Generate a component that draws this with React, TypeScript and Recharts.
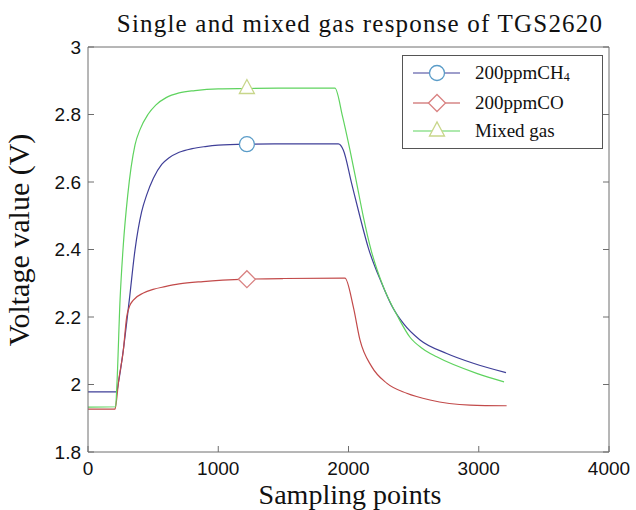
import { Line, LineChart, XAxis, YAxis } from 'recharts';

// sampling point index / voltage
const ch4X = [0, 220, 233, 271, 317, 361, 412, 450, 502, 566, 620, 700, 800, 900, 1000, 1220, 1500, 1922, 1960, 2024, 2088, 2152, 2255, 2330, 2421, 2549, 2754, 2958, 3209];
const ch4Y = [1.978, 1.978, 2.004, 2.102, 2.25, 2.399, 2.512, 2.561, 2.611, 2.652, 2.671, 2.688, 2.699, 2.705, 2.709, 2.712, 2.713, 2.713, 2.695, 2.596, 2.497, 2.405, 2.3, 2.235, 2.181, 2.132, 2.092, 2.063, 2.035];

const coX = [0, 207, 218, 233, 271, 297, 320, 348, 425, 500, 591, 700, 883, 1220, 1500, 1973, 2037, 2088, 2178, 2293, 2447, 2626, 2933, 3214];
const coY = [1.927, 1.927, 1.95, 2.004, 2.1, 2.2, 2.233, 2.25, 2.271, 2.282, 2.29, 2.298, 2.305, 2.312, 2.314, 2.315, 2.23, 2.132, 2.053, 2.004, 1.974, 1.954, 1.939, 1.937];

const mixX = [0, 212, 222, 246, 271, 305, 361, 400, 460, 520, 600, 700, 821, 1000, 1220, 1500, 1896, 1955, 2011, 2063, 2114, 2173, 2267, 2380, 2472, 2570, 2677, 2984, 3194];
const mixY = [1.933, 1.934, 2.0, 2.25, 2.413, 2.561, 2.71, 2.756, 2.8, 2.828, 2.85, 2.864, 2.871, 2.876, 2.877, 2.878, 2.878, 2.793, 2.695, 2.596, 2.497, 2.399, 2.29, 2.2, 2.14, 2.106, 2.082, 2.033, 2.008];

const xTicks = [0, 1000, 2000, 3000, 4000];
const yTicks = [1.8, 2, 2.2, 2.4, 2.6, 2.8, 3];
const MARK_AT = 1220;

const toRows = (xs: number[], ys: number[]) => xs.map((x, i) => ({ x, v: ys[i] }));

const AXIS = '#6e6e6e';
const SANS = '"Liberation Sans", Arial, sans-serif';
const SERIF = '"Liberation Serif", "Times New Roman", serif';
const TICK = 6;
const X_MARGIN = 10;
const Y_MARGIN = 7;

const series = [
  { name: 'ch4', rows: toRows(ch4X, ch4Y), color: '#3f3f98', marker: 'circle' },
  { name: 'co', rows: toRows(coX, coY), color: '#c24a4a', marker: 'diamond' },
  { name: 'mix', rows: toRows(mixX, mixY), color: '#5fd35f', marker: 'triangle' },
];

function Marker({ kind, cx, cy }: { kind: string; cx: number; cy: number }) {
  if (kind === 'circle') {
    return <circle cx={cx} cy={cy} r={7.5} fill="#fff" stroke="#5a9cc8" strokeWidth={1.3} />;
  }
  if (kind === 'diamond') {
    const d = 8.5;
    return (
      <polygon
        points={`${cx - d},${cy} ${cx},${cy - d} ${cx + d},${cy} ${cx},${cy + d}`}
        fill="#fff"
        stroke="#d98282"
        strokeWidth={1.3}
      />
    );
  }
  return (
    <polygon
      points={`${cx - 7.5},${cy + 5} ${cx},${cy - 9} ${cx + 7.5},${cy + 5}`}
      fill="#fff"
      stroke="#c8d68a"
      strokeWidth={1.3}
    />
  );
}

const BottomTick = ({ x, y, payload }: any) => (
  <g>
    <line x1={x} x2={x} y1={y - X_MARGIN} y2={y - X_MARGIN - TICK} stroke={AXIS} />
    <text x={x} y={y} dy="0.71em" textAnchor="middle" fontFamily={SANS} fontSize={19} fill="#111">
      {payload.value}
    </text>
  </g>
);

const LeftTick = ({ x, y, payload }: any) => (
  <g>
    <line x1={x + Y_MARGIN} x2={x + Y_MARGIN + TICK} y1={y} y2={y} stroke={AXIS} />
    <text x={x} y={y} dy="0.355em" textAnchor="end" fontFamily={SANS} fontSize={19} fill="#111">
      {payload.value}
    </text>
  </g>
);

const TopTick = ({ x, y }: any) => <line x1={x} x2={x} y1={y} y2={y + TICK} stroke={AXIS} />;
const RightTick = ({ x, y }: any) => <line x1={x} x2={x - TICK} y1={y} y2={y} stroke={AXIS} />;

function LegendBox() {
  const items = [
    { label: <>200ppmCH<sub style={{ fontSize: 12, verticalAlign: '-2px' }}>4</sub></>, s: series[0] },
    { label: <>200ppmCO</>, s: series[1] },
    { label: <>Mixed gas</>, s: series[2] },
  ];
  return (
    <div
      style={{
        position: 'absolute',
        left: 402,
        top: 55,
        width: 199,
        height: 92,
        border: '1px solid #555',
        background: '#fff',
      }}
    >
      {items.map((it, i) => {
        const cy = [17, 47, 75][i];
        return (
          <div key={i} style={{ position: 'absolute', left: 0, top: cy - 12, height: 24, width: 199 }}>
            <svg width={60} height={24} style={{ position: 'absolute', left: 8, top: 0 }}>
              <line x1={2} x2={49} y1={12} y2={12} stroke={it.s.color} strokeWidth={1.2} />
              <Marker kind={it.s.marker} cx={26} cy={12} />
            </svg>
            <div
              style={{
                position: 'absolute',
                left: 72,
                top: 1,
                fontFamily: SERIF,
                fontSize: 19,
                lineHeight: '22px',
                color: '#111',
                whiteSpace: 'nowrap',
              }}
            >
              {it.label}
            </div>
          </div>
        );
      })}
    </div>
  );
}

export default function App() {
  return (
    <div style={{ position: 'absolute', left: 0, top: 0, width: 636, height: 510, background: '#fff' }}>
      <div
        style={{
          position: 'absolute',
          left: 360,
          top: 11,
          transform: 'translateX(-50%)',
          fontFamily: SERIF,
          fontSize: 25,
          lineHeight: 1,
          letterSpacing: 1.2,
          whiteSpace: 'nowrap',
          color: '#111',
        }}
      >
        Single and mixed gas response of TGS2620
      </div>

      <LineChart width={636} height={510} margin={{ top: 46, right: 26, bottom: 28, left: 28 }}>
        <XAxis
          dataKey="x"
          type="number"
          domain={[0, 4000]}
          ticks={xTicks}
          allowDataOverflow
          height={30}
          stroke={AXIS}
          tickSize={0}
          tickMargin={X_MARGIN}
          tick={<BottomTick />}
        />
        <XAxis
          xAxisId="top"
          orientation="top"
          type="number"
          domain={[0, 4000]}
          ticks={xTicks}
          allowDataOverflow
          height={1}
          stroke={AXIS}
          tickSize={0}
          tickMargin={0}
          tick={<TopTick />}
        />
        <YAxis
          type="number"
          domain={[1.8, 3]}
          ticks={yTicks}
          allowDataOverflow
          width={60}
          stroke={AXIS}
          tickSize={0}
          tickMargin={Y_MARGIN}
          tick={<LeftTick />}
        />
        <YAxis
          yAxisId="right"
          orientation="right"
          type="number"
          domain={[1.8, 3]}
          ticks={yTicks}
          allowDataOverflow
          width={1}
          stroke={AXIS}
          tickSize={0}
          tickMargin={0}
          tick={<RightTick />}
        />
        {series.map((s) => (
          <Line
            key={s.name}
            data={s.rows}
            dataKey="v"
            type="monotone"
            stroke={s.color}
            strokeWidth={1.2}
            isAnimationActive={false}
            dot={(p: any) =>
              p.payload.x === MARK_AT ? (
                <Marker key={`m-${s.name}-${p.index}`} kind={s.marker} cx={p.cx} cy={p.cy} />
              ) : (
                <g key={`m-${s.name}-${p.index}`} />
              )
            }
            activeDot={false}
          />
        ))}
      </LineChart>

      <div
        style={{
          position: 'absolute',
          left: 350,
          top: 481,
          transform: 'translateX(-50%)',
          fontFamily: SERIF,
          fontSize: 28,
          lineHeight: 1,
          whiteSpace: 'nowrap',
          color: '#111',
        }}
      >
        Sampling points
      </div>
      <div
        style={{
          position: 'absolute',
          left: 19,
          top: 240,
          transform: 'translate(-50%, -50%) rotate(-90deg)',
          fontFamily: SERIF,
          fontSize: 30,
          lineHeight: 1,
          whiteSpace: 'nowrap',
          color: '#111',
        }}
      >
        Voltage value (V)
      </div>

      <LegendBox />
    </div>
  );
}
